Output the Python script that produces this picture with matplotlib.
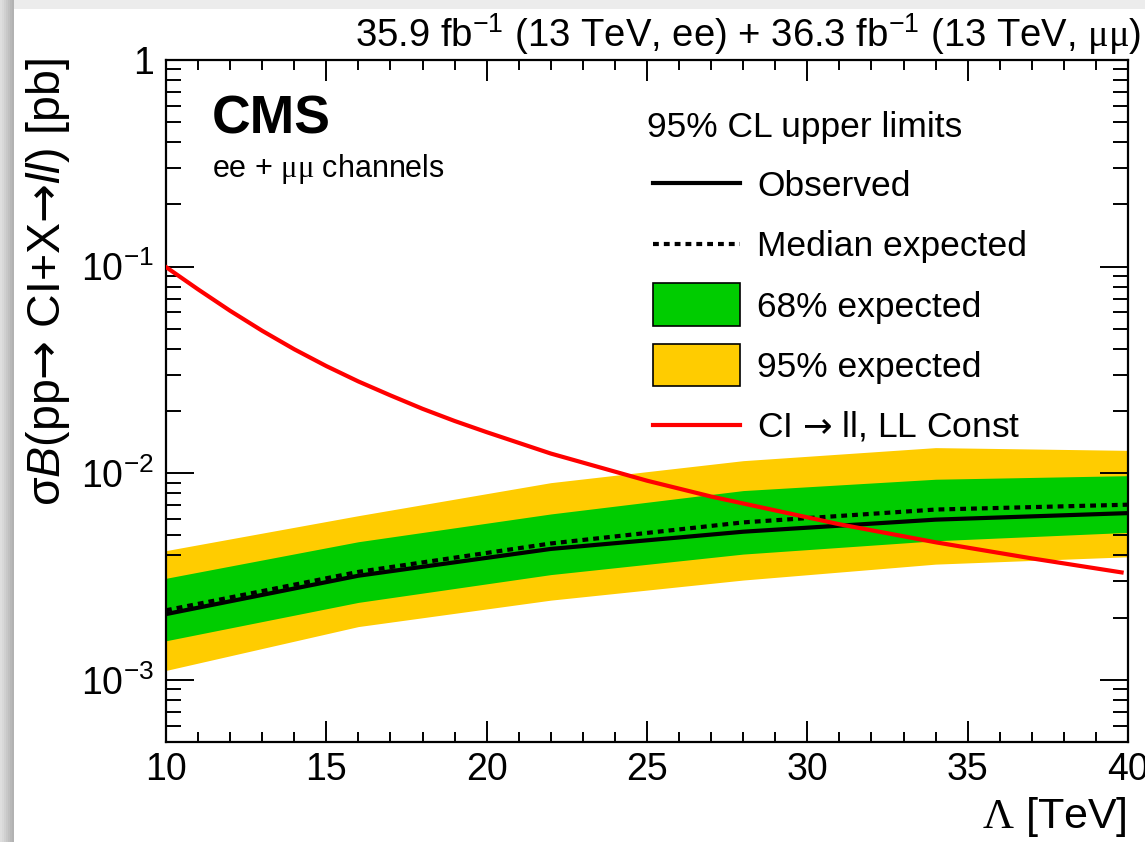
import matplotlib
matplotlib.use("Agg")
import matplotlib.pyplot as plt
from matplotlib.patches import Rectangle
from matplotlib.lines import Line2D
from matplotlib.ticker import MultipleLocator, LogLocator, FixedLocator, FuncFormatter, NullFormatter

plt.rcParams['font.family'] = ['Liberation Sans', 'DejaVu Sans']
plt.rcParams['mathtext.fontset'] = 'custom'
plt.rcParams['mathtext.rm'] = 'Liberation Sans'
plt.rcParams['mathtext.it'] = 'Liberation Sans:italic'
plt.rcParams['mathtext.bf'] = 'Liberation Sans:bold'
plt.rcParams['mathtext.sf'] = 'DejaVu Sans'
plt.rcParams['mathtext.tt'] = 'Liberation Serif'

# ---------------- data ----------------
lam = [10, 16, 22, 28, 34, 40]
observed = [2.08e-3, 3.19e-3, 4.30e-3, 5.21e-3, 5.96e-3, 6.41e-3]
median_exp = [2.17e-3, 3.33e-3, 4.57e-3, 5.78e-3, 6.67e-3, 7.04e-3]
exp68_lo = [1.545e-3, 2.37e-3, 3.23e-3, 4.06e-3, 4.71e-3, 5.17e-3]
exp68_hi = [3.10e-3, 4.66e-3, 6.35e-3, 8.24e-3, 9.35e-3, 9.73e-3]
exp95_lo = [1.11e-3, 1.81e-3, 2.43e-3, 3.04e-3, 3.63e-3, 3.94e-3]
exp95_hi = [4.22e-3, 6.23e-3, 9.0e-3, 1.15e-2, 1.33e-2, 1.29e-2]

ci_lam = [10, 11, 12, 13, 14, 15, 16, 17, 18, 19, 20, 22, 25, 27, 31, 34, 37, 39.8]
ci_xsec = [0.0995, 0.0776, 0.0611, 0.0489, 0.0398, 0.0330, 0.0278, 0.0238, 0.0205,
           0.0179, 0.0158, 0.01245, 0.0092, 0.00771, 0.00566, 0.00463, 0.00387, 0.00331]

x_ticks = [10, 15, 20, 25, 30, 35, 40]
y_ticks = [1e-3, 1e-2, 1e-1, 1]
y_tick_labels = ['$10^{-3}$', '$10^{-2}$', '$10^{-1}$', '1']

ARROW = "$\\mathsf{→}$"
title_text = r"35.9 fb$^{-1}$ (13 TeV, ee) + 36.3 fb$^{-1}$ (13 TeV, $\mathtt{\mu\mu}$)"
ylabel_text = r"σ$\mathit{B}$(pp" + ARROW + r" CI+X" + ARROW + r"$\mathit{ll}$) [pb]"
xlabel_text = r"$\mathtt{\Lambda}$ [TeV]"
legend_header = "95% CL upper limits"
legend_labels = ["Observed", "Median expected", "68% expected", "95% expected",
                 "CI " + ARROW + " ll, LL Const"]

GREEN = "#00CC00"
YELLOW = "#FFCC00"
RED = "#FF0000"

W, H = 1145, 842
fig = plt.figure(figsize=(W / 100, H / 100), dpi=100)
fig.patch.set_facecolor('white')


def fx(px):
    return px / W


def fy(py):
    return 1 - py / H


# screenshot-like shadow frame
fig.patches.append(Rectangle((0, fy(9)), 1, 9 / H, transform=fig.transFigure,
                             facecolor='#ececec', edgecolor='none', zorder=0))
shades = ['#dedede', '#d8d8d8', '#d0d0d0', '#c8c8c8', '#c0c0c0', '#b8b8b8', '#b2b2b2']
for i, c in enumerate(shades):
    fig.patches.append(Rectangle((fx(i * 2), 0), 2 / W, 1, transform=fig.transFigure,
                                 facecolor=c, edgecolor='none', zorder=0))

L, R, T, B = 166, 1128, 60, 742
ax = fig.add_axes([fx(L), fy(B), fx(R) - fx(L), fy(T) - fy(B)])

ax.fill_between(lam, exp95_lo, exp95_hi, color=YELLOW, linewidth=0, zorder=1)
ax.fill_between(lam, exp68_lo, exp68_hi, color=GREEN, linewidth=0, zorder=2)
ax.plot(lam, median_exp, color='black', lw=3.0, linestyle=(0, (1.4, 1.2)), zorder=3)
ax.plot(lam, observed, color='black', lw=3.0, zorder=4)
ax.plot(ci_lam, ci_xsec, color=RED, lw=3.0, zorder=5, solid_joinstyle='round')

ax.set_yscale('log')
ax.set_xlim(10, 40)
ax.set_ylim(5e-4, 1)

ax.xaxis.set_major_locator(FixedLocator(x_ticks))
ax.xaxis.set_minor_locator(MultipleLocator(1))
ax.yaxis.set_major_locator(FixedLocator(y_ticks))
ax.yaxis.set_major_formatter(FuncFormatter(lambda v, p: y_tick_labels[y_ticks.index(v)] if v in y_ticks else ''))
ax.yaxis.set_minor_locator(LogLocator(base=10, subs=[2, 3, 4, 5, 6, 7, 8, 9]))
ax.yaxis.set_minor_formatter(NullFormatter())

for s in ax.spines.values():
    s.set_linewidth(1.6)
ax.tick_params(axis='x', which='major', direction='in', length=15, width=1.4,
               top=True, bottom=True, labelsize=27, pad=7)
ax.tick_params(axis='x', which='minor', direction='in', length=7.5, width=1.4,
               top=True, bottom=True)
ax.tick_params(axis='y', which='major', direction='in', length=20, width=1.4,
               left=True, right=True, labelsize=27, pad=9)
ax.tick_params(axis='y', which='minor', direction='in', length=11, width=1.4,
               left=True, right=True)

# title / labels
fig.text(fx(1141), fy(47), title_text, ha='right', va='baseline', fontsize=27.5)
fig.text(fx(1127), fy(828), xlabel_text, ha='right', va='baseline', fontsize=31)
fig.text(fx(60), fy(58), ylabel_text, ha='right', va='baseline', rotation=90,
         rotation_mode='anchor', fontsize=33.5)

fig.text(fx(212), fy(133), "CMS", ha='left', va='baseline', fontsize=38.5, fontweight='bold')
fig.text(fx(212), fy(177), r"ee + $\mathtt{\mu\mu}$ channels", ha='left', va='baseline', fontsize=22)

# legend (drawn manually to mirror ROOT layout)
fig.text(fx(647), fy(137), legend_header, ha='left', va='baseline', fontsize=25.5)
tx = 757
baselines = [196, 256, 316.7, 376.7, 436.7]
for lbl, bl in zip(legend_labels, baselines):
    fig.text(fx(tx), fy(bl), lbl, ha='left', va='baseline', fontsize=25.5)

fig.add_artist(Line2D([fx(653), fx(740)], [fy(183.3), fy(183.3)], color='black', lw=3.0))
fig.add_artist(Line2D([fx(653), fx(740)], [fy(244), fy(244)], color='black', lw=3.0,
                      linestyle=(0, (1.4, 1.2))))
fig.add_artist(Rectangle((fx(653), fy(325.7)), fx(740) - fx(653), fy(283.3) - fy(325.7),
                         transform=fig.transFigure, facecolor=GREEN, edgecolor='black', lw=1.2))
fig.add_artist(Rectangle((fx(653), fy(386)), fx(740) - fx(653), fy(344) - fy(386),
                         transform=fig.transFigure, facecolor=YELLOW, edgecolor='black', lw=1.2))
fig.add_artist(Line2D([fx(653), fx(740)], [fy(425), fy(425)], color=RED, lw=3.0))

fig.savefig("out.png", dpi=100)
